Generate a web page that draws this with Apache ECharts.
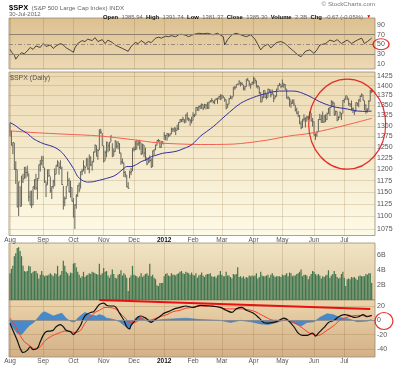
<!DOCTYPE html>
<html><head><meta charset="utf-8">
<script src="https://cdn.jsdelivr.net/npm/echarts@6/dist/echarts.min.js"></script>
<style>html,body{margin:0;padding:0;background:#fff}#c{width:400px;height:365px}</style>
</head><body><div id="c"></div><script>
// ---- axis / tick data ----
const monthStart = [0,23,44,65,86,107,127,147,169,189,211,232];
const monthName  = ['Aug','Sep','Oct','Nov','Dec','2012','Feb','Mar','Apr','May','Jun','Jul'];
const priceTicks = [1075,1100,1125,1150,1175,1200,1225,1250,1275,1300,1325,1350,1375,1400,1425];
const rsiTicks = [10,30,50,70,90];
const volTicks = [2,4,6];
const macdTicks = [20,0,-20,-40];

// ---- daily price data (Aug 1 2011 .. Jul 30 2012) ----
const dayClose = [
1286.94,1254.05,1260.34,1200.07,1199.38,1119.46,1172.53,1120.76,1172.64,1178.81,1204.49,1192.76,1193.89,1140.65,1123.53,1123.82,1162.35,1177.60,1159.27,1176.80,1210.08,1212.92,1218.89,
1204.42,1173.97,1165.24,1198.62,1185.90,1154.23,1162.27,1172.87,1188.68,1209.11,1216.01,1204.09,1202.09,1166.76,1129.56,1136.43,1162.95,1175.38,1151.06,1160.40,1131.42,
1099.23,1123.95,1144.03,1164.97,1155.46,1194.89,1195.54,1207.25,1203.66,1224.58,1200.86,1225.38,1209.88,1215.39,1238.25,1254.19,1229.05,1242.00,1284.59,1285.09,1253.30,
1218.28,1237.90,1261.15,1253.23,1261.12,1275.92,1229.10,1239.70,1263.85,1251.78,1257.81,1236.91,1216.13,1215.65,1192.98,1188.04,1161.79,1158.67,1192.55,1195.19,1246.96,
1244.58,1244.28,1257.08,1258.47,1261.01,1234.35,1255.19,1236.47,1225.73,1211.82,1215.75,1219.66,1205.35,1241.30,1243.72,1254.00,1265.33,1265.43,1249.64,1263.02,1257.60,
1277.06,1277.30,1281.06,1277.81,1280.70,1292.08,1292.48,1295.50,1289.09,1293.67,1308.04,1314.50,1315.38,1316.00,1314.65,1326.06,1318.43,1316.33,1313.01,1312.41,
1324.09,1325.54,1344.90,1344.33,1347.05,1349.96,1351.95,1342.64,1351.77,1350.50,1343.23,1358.04,1361.23,1362.21,1357.66,1363.46,1365.74,1367.59,1372.18,1365.68,
1374.09,1369.63,1364.33,1343.36,1352.63,1365.91,1370.87,1371.09,1395.95,1394.28,1402.60,1404.17,1409.75,1405.52,1402.89,1392.78,1397.11,1416.51,1412.52,1405.54,1403.28,1408.47,
1419.04,1413.38,1398.96,1398.08,1382.20,1358.59,1368.71,1387.57,1370.26,1369.57,1390.78,1385.14,1376.92,1378.53,1366.94,1371.97,1390.69,1399.98,1403.36,1397.91,
1405.82,1402.31,1391.57,1369.10,1369.58,1363.72,1354.58,1357.99,1353.39,1338.35,1330.66,1324.80,1304.86,1295.22,1315.99,1316.63,1318.86,1320.68,1317.82,1332.42,1313.32,1310.33,
1278.04,1278.18,1285.50,1315.13,1314.99,1325.66,1308.93,1324.18,1314.88,1329.10,1342.84,1344.78,1357.98,1355.69,1325.51,1335.02,1313.72,1319.99,1331.85,1329.04,1362.16,
1365.51,1374.02,1367.58,1354.68,1352.46,1341.47,1341.45,1334.76,1356.78,1353.64,1363.67,1372.78,1376.51,1362.66,1350.52,1338.31,1337.89,1360.02,1385.97,1385.30];
const dayHigh = [
1307,1288,1261,1260,1218,1199,1172,1163,1186,1190,1205,1204,1208,1191,1153,1154,1162,1178,1190,1181,1210,1221,1230,
1230,1203,1173,1199,1200,1184,1163,1177,1202,1209,1220,1215,1220,1206,1164,1141,1163,1195,1181,1175,1160,
1138,1125,1146,1165,1171,1195,1201,1220,1207,1224,1224,1233,1229,1219,1240,1256,1254,1246,1292,1293,1283,
1253,1242,1263,1260,1262,1277,1259,1247,1266,1263,1264,1259,1237,1224,1215,1196,1187,1172,1197,1203,1247,
1251,1264,1267,1266,1267,1260,1258,1255,1249,1226,1226,1231,1225,1242,1245,1256,1265,1269,1266,1263,1264,
1285,1278,1283,1282,1282,1296,1294,1296,1295,1303,1309,1316,1316,1322,1315,1328,1333,1320,1316,1322,
1333,1329,1345,1345,1349,1351,1355,1352,1354,1352,1358,1359,1363,1368,1362,1364,1368,1369,1373,1378,
1377,1374,1369,1364,1354,1369,1375,1372,1396,1399,1403,1405,1414,1409,1409,1402,1399,1417,1420,1413,1404,1410,
1423,1419,1413,1401,1397,1383,1374,1388,1387,1379,1392,1391,1390,1390,1378,1376,1392,1402,1407,1403,
1416,1405,1404,1391,1373,1369,1362,1365,1365,1351,1344,1336,1326,1312,1316,1328,1320,1324,1324,1335,1331,1319,
1310,1282,1287,1316,1329,1326,1335,1325,1328,1332,1343,1346,1363,1361,1357,1337,1335,1323,1335,1331,1363,
1367,1374,1373,1367,1355,1362,1345,1336,1357,1357,1365,1375,1380,1376,1362,1352,1343,1363,1389,1392];
const dayLow = [
1275,1254,1234,1199,1168,1119,1101,1120,1121,1170,1179,1180,1184,1131,1123,1117,1123,1156,1155,1135,1179,1195,1209,
1203,1170,1140,1166,1183,1149,1136,1158,1163,1189,1205,1188,1201,1166,1114,1121,1136,1164,1150,1139,1131,
1098,1075,1116,1140,1150,1158,1187,1196,1190,1206,1199,1191,1207,1197,1216,1238,1229,1221,1243,1281,1253,
1215,1219,1227,1238,1241,1262,1227,1230,1239,1247,1245,1235,1210,1212,1183,1182,1161,1158,1180,1187,1196,
1240,1243,1245,1253,1244,1232,1234,1227,1219,1209,1213,1216,1203,1205,1232,1243,1254,1262,1248,1249,1257,
1267,1266,1265,1273,1275,1280,1285,1285,1278,1289,1290,1307,1309,1309,1306,1307,1313,1311,1300,1306,
1313,1321,1326,1336,1336,1341,1341,1338,1343,1340,1341,1341,1357,1358,1355,1353,1363,1354,1365,1363,
1366,1368,1359,1340,1344,1353,1366,1365,1372,1389,1394,1402,1402,1398,1401,1388,1387,1397,1412,1398,1392,1402,
1403,1405,1395,1392,1378,1357,1359,1368,1369,1365,1370,1383,1370,1377,1358,1367,1372,1389,1399,1393,
1396,1394,1389,1367,1364,1347,1344,1354,1348,1335,1328,1321,1304,1292,1295,1310,1296,1310,1314,1318,1310,1298,
1277,1267,1274,1286,1314,1307,1307,1307,1309,1314,1329,1324,1345,1346,1325,1326,1311,1314,1320,1314,1330,
1356,1364,1363,1349,1346,1337,1331,1326,1335,1348,1345,1358,1371,1362,1338,1329,1332,1338,1360,1381];
// volume in billions
const dayVolume = [
3.6,4.2,4.6,5.9,6.3,7.0,7.1,6.6,5.9,4.6,3.9,3.8,3.9,4.6,4.5,3.6,3.8,3.9,3.9,3.6,2.9,3.4,3.9,
3.4,3.2,3.3,3.3,3.4,3.6,3.4,3.2,3.6,3.5,4.6,3.2,3.4,3.9,5.3,4.6,3.8,3.6,3.3,3.7,3.6,
4.9,5.0,4.4,3.8,3.4,3.0,3.2,3.8,3.1,3.3,3.4,3.6,3.5,3.8,3.7,3.6,3.5,3.4,4.9,3.4,3.6,
4.3,3.8,3.9,3.3,3.0,3.4,4.1,3.5,3.0,2.9,3.4,3.5,4.0,3.3,3.6,3.4,3.0,1.2,3.0,3.3,4.6,
3.4,3.3,3.2,3.0,3.2,3.6,3.1,3.3,3.5,3.6,3.3,4.9,3.2,3.4,3.0,2.8,2.0,1.9,2.3,2.3,2.3,
3.2,3.5,3.6,3.3,3.2,3.6,3.4,3.4,3.3,3.5,3.6,3.8,3.9,3.6,3.5,3.8,3.7,3.6,3.4,3.7,
3.4,3.3,3.6,3.0,3.3,3.4,3.7,3.3,3.1,3.4,3.5,3.5,3.6,3.2,3.1,3.2,3.0,3.3,3.4,3.9,
3.4,3.2,3.2,3.8,3.3,3.3,3.1,2.9,3.5,3.4,3.5,4.4,3.1,3.2,3.0,3.2,2.9,3.1,3.0,3.3,3.2,3.3,
3.2,3.3,3.6,2.9,3.1,3.8,3.3,3.2,3.2,3.3,3.4,3.0,3.4,3.6,3.3,3.1,3.2,3.2,3.2,3.1,
3.4,3.3,3.4,3.6,3.2,3.7,3.6,3.2,3.3,3.3,3.5,3.6,3.8,4.1,3.2,3.4,3.4,3.3,2.8,3.2,3.5,3.9,
3.8,3.5,3.3,3.5,3.3,2.9,3.2,3.1,3.3,3.4,4.0,3.0,3.3,3.5,3.9,3.5,3.1,2.9,3.0,3.5,3.8,
3.0,1.9,2.8,2.9,2.8,3.1,3.0,3.1,2.9,2.7,3.2,3.3,3.2,3.2,3.2,3.5,3.4,3.6,3.6,2.3];

// ---- moving averages (trading-day index, value) ----
const ma50Day   = [0,4,7,12,16,21,25,30,35,39,44,47,50,52,54,58,62,67,72,75,79,81,84,88,91,95,98,102,106,111,116,120,125,128,132,141,150,160,169,178,187,197,206,215,224,234,241,248,251];
const ma50Value = [1308,1300,1292,1282,1270,1261,1256,1251,1241,1226,1202,1184,1176,1173,1172,1173,1176,1180,1185,1191,1202,1206,1206,1211,1217,1222,1228,1232,1236,1238,1241,1246,1253,1261,1275,1298,1326,1355,1370,1380,1386,1386,1376,1359,1347,1341,1336,1335,1336];
const ma200Day   = [0,16,39,62,86,102,120,132,155,178,194,208,224,238,251];
const ma200Value = [1288,1284,1280,1276,1267,1260,1257,1256,1257,1266,1276,1282,1294,1306,1318];

// ---- RSI(14) ----
const rsiDay   = [0,1,3,4,5,6,8,10,12,14,16,18,21,23,25,28,30,32,35,37,39,42,44,45,47,50,52,54,57,59,61,64,66,68,71,73,75,78,80,82,84,87,89,91,94,96,98,101,103,105,108,110,112,115,117,119,122,124,126,128,131,134,137,141,144,148,149,151,154,157,160,164,167,170,174,176,179,181,185,188,191,193,197,200,202,205,208,211,213,215,219,222,225,227,230,234,237,241,244,246,248,251];
const rsiValue = [40,35,28,20,16,28,33,31,37,44,40,47,44,52,46,49,42,47,52,49,43,38,34,43,52,58,56,61,58,64,56,60,52,59,54,49,46,42,39,36,46,54,52,58,52,56,54,63,65,63,67,66,68,66,70,71,69,66,69,71,73,72,73,70,73,66,49,60,70,73,70,66,70,61,39,46,51,43,54,56,52,46,36,28,25,36,39,32,39,49,52,59,56,60,52,59,52,59,63,52,56,63];

// ---- MACD(12,26,9) ----
const macdDay   = [0,2,5,7,9,12,14,16,19,21,23,25,28,30,32,35,37,39,42,44,46,49,51,53,56,58,60,62,65,67,69,72,74,76,79,81,83,84,87,89,91,94,96,98,100,103,105,107,111,114,118,122,127,132,139,146,150,154,157,161,164,169,173,176,179,183,186,190,193,197,200,203,206,210,212,214,218,221,225,228,232,235,239,242,245,248,251];
const macdValue = [-4,-14,-28,-39,-45,-42,-37,-41,-39,-30,-21,-16,-15,-14,-9,-6,-9,-14,-16,-20,-16,-7,3,8,11,12,17,22,24,21,20,20,17,10,0,-9,-12,-7,0,5,6,3,0,-3,0,4,7,10,13,16,18,20,18,21,20,18,14,11,16,18,14,10,3,-3,-4,-3,-1,3,0,-9,-18,-21,-21,-18,-22,-18,-10,-3,0,5,8,7,4,5,8,5,7];
const signalDay   = [0,4,7,10,14,17,21,24,28,31,35,38,42,45,49,52,56,59,62,66,69,73,76,80,83,87,90,94,97,100,104,109,113,118,122,127,132,141,150,160,169,176,183,190,197,203,208,214,220,225,229,235,241,248,251];
const signalValue = [3,-9,-21,-30,-36,-40,-37,-29,-23,-20,-17,-15,-16,-17,-14,-4,5,11,14,18,18,16,11,3,-3,-3,2,4,0,2,5,8,12,14,17,18,20,20,16,16,13,6,0,0,-3,-11,-18,-21,-14,-7,0,5,7,6,6];
const histDay   = [0,2,5,8,10,13,15,17,20,22,24,27,30,33,36,38,40,43,45,47,50,52,54,57,60,62,65,67,70,74,76,78,81,83,84,87,89,91,95,98,101,106,113,122,132,146,153,160,167,174,179,185,191,197,202,206,211,215,220,224,229,235,241,248,251];
const histValue = [-3,-10,-18,-20,-15,-8,-5,-2,5,10,12,9,6,8,10,5,1,-2,-2,3,8,11,9,7,6,8,6,3,2,0,-2,-5,-10,-13,-7,3,5,4,-1,-3,0,1,2,3,1,0,-3,0,-2,-5,-6,-3,1,-4,-8,-3,-2,4,9,8,4,2,-2,-1,1];

// ---- hand-drawn annotations (data coordinates) ----
const trendDay = [62,250];
const trendValue = [28.4,15.8];
const priceCircle = {day:234, price:1304};
const rsiCircle = {day:257.5, value:50.5};
const macdCircle = {day:259.5, value:-1};

const FONT = '"Liberation Sans", Arial, Helvetica, sans-serif';
const lg = Math.log;
const GRIDLINE = 'rgba(120,85,30,0.18)';

function grd(top, height, c1, c2) {
  return {left:9, width:366, top, height, show:true, borderColor:'#9a8c74', borderWidth:0.8,
    backgroundColor:{type:'linear', x:0, y:0, x2:0, y2:1, colorStops:[{offset:0,color:c1},{offset:1,color:c2}]}};
}
function xAx(gi, showLabel) {
  return {type:'value', gridIndex:gi, min:-0.7, max:253.3,
    axisLine:{show:false}, axisTick:{show:false, customValues:monthStart},
    splitLine:{show:true, lineStyle:{color:GRIDLINE, width:1}},
    axisLabel:{show:showLabel, customValues:monthStart, margin:1, fontSize:6.5, color:'#555', fontFamily:FONT,
      formatter:v => { const s = monthName[monthStart.indexOf(v)] || ''; return s === '2012' ? '{b|2012}' : s; },
      rich:{b:{fontWeight:'bold', color:'#111', fontSize:6.5, fontFamily:FONT}}}};
}
function yAx(gi, min, max, ticks, fmt, split) {
  return {type:'value', gridIndex:gi, position:'right', min, max,
    axisLine:{show:false}, axisTick:{show:false, customValues:ticks},
    splitLine:{show:split, lineStyle:{color:GRIDLINE, width:1}},
    axisLabel:{customValues:ticks, formatter:fmt, fontSize:7, color:'#555', margin:2, fontFamily:FONT}};
}

const k = 0.0018425;
const pTop = lg(1425) + k*4;
const pBot = lg(1425) - k*159.5;

function renderBar(params, api) {
  const x = api.value(0);
  const a = api.coord([x, api.value(1)]);
  const b = api.coord([x, api.value(2)]);
  const c = api.coord([x, api.value(3)]);
  return {type:'group', children:[
    {type:'line', shape:{x1:a[0], y1:a[1], x2:b[0], y2:b[1]}, style:{stroke:'#64645a', lineWidth:1}},
    {type:'line', shape:{x1:c[0], y1:c[1], x2:c[0]+1.2, y2:c[1]}, style:{stroke:'#64645a', lineWidth:1}}
  ]};
}

const chart = echarts.init(document.getElementById('c'), null, {renderer:'canvas'});
chart.setOption({
  animation:false,
  textStyle:{fontFamily:FONT},
  grid:[
    grd(18, 51, '#dcc090', '#ecd9b4'),
    grd(72, 163.5, '#ecd9b2', '#fdfae6'),
    grd(243, 57, '#f1e4c4', '#dfc7a0'),
    grd(300, 57, '#ebd4ab', '#d3b086')
  ],
  xAxis:[xAx(0,false), xAx(1,true), xAx(2,false), xAx(3,true)],
  yAxis:[
    yAx(0, -0.2, 104.3, rsiTicks, v => String(v), false),
    yAx(1, pBot, pTop, priceTicks.map(lg), v => String(Math.round(Math.exp(v))), true),
    yAx(2, 0, 7.68, volTicks, v => v + 'B', false),
    yAx(3, -51.3, 28.4, macdTicks, v => String(v), true)
  ],
  graphic:[
    {type:'text', left:9, top:2, style:{text:'{a|\u0024SPX} {g|(S&P 500 Large Cap Index) INDX}',
      rich:{a:{fontWeight:'bold', fontSize:7.5, fill:'#000', fontFamily:FONT}, g:{fontSize:6.2, fill:'#666', fontFamily:FONT}}}},
    {type:'text', left:9, top:11, style:{text:'30-Jul-2012', fontSize:6, fill:'#666', fontFamily:FONT}},
    {type:'text', left:103, top:11, style:{
      text:'{b|Open} {v|1385.94} {b|High} {v|1391.74} {b|Low} {v|1381.37} {b|Close} {v|1385.30} {b|Volume} {v|2.3B} {b|Chg} {v|-0.67 (-0.05%)} {r|▼}',
      rich:{b:{fontWeight:'bold', fontSize:5.9, fill:'#111', fontFamily:FONT}, v:{fontSize:5.9, fill:'#666', fontFamily:FONT}, r:{fontSize:5, fill:'#d00'}}}},
    {type:'text', right:25, top:1, style:{text:'© StockCharts.com', fontSize:6.2, fill:'#777', fontFamily:FONT}},
    {type:'text', left:10, top:75, style:{text:'\u0024SPX (Daily)', fontSize:7, fill:'#555', fontFamily:FONT}}
  ],
  series:[
    {type:'line', xAxisIndex:0, yAxisIndex:0, data:rsiDay.map((d,i)=>[d, rsiValue[i]]), symbol:'none',
      lineStyle:{color:'#222', width:0.8},
      markLine:{silent:true, symbol:'none', label:{show:false}, animation:false, data:[
        {yAxis:70, lineStyle:{color:'#8f8270', type:'solid', width:1}},
        {yAxis:30, lineStyle:{color:'#8f8270', type:'solid', width:1}},
        {yAxis:50, lineStyle:{color:'#9a8c78', type:[4,2,1,2], width:1}}]}},
    {type:'custom', xAxisIndex:1, yAxisIndex:1, renderItem:renderBar,
      data:dayClose.map((c,i)=>[i, lg(dayLow[i]), lg(dayHigh[i]), lg(c)]), encode:{x:0, y:[1,2,3]}},
    {type:'line', xAxisIndex:1, yAxisIndex:1, data:ma200Day.map((d,i)=>[d, lg(ma200Value[i])]), symbol:'none', smooth:0.3,
      lineStyle:{color:'#f5604f', width:1}},
    {type:'line', xAxisIndex:1, yAxisIndex:1, data:ma50Day.map((d,i)=>[d, lg(ma50Value[i])]), symbol:'none', smooth:0.3,
      lineStyle:{color:'#3030a0', width:1}},
    {type:'scatter', xAxisIndex:1, yAxisIndex:1, data:[[priceCircle.day, lg(priceCircle.price)]], symbolSize:[77,90], clip:false, silent:true,
      itemStyle:{color:'rgba(0,0,0,0)', borderColor:'#e00000', borderWidth:1.3}, z:10},
    {type:'bar', xAxisIndex:2, yAxisIndex:2, data:dayVolume.map((v,i)=>[i, v]), barWidth:1.2,
      itemStyle:{color:'#3e7650'}},
    {type:'line', xAxisIndex:3, yAxisIndex:3, data:histDay.map((d,i)=>[d, histValue[i]]), symbol:'none',
      lineStyle:{color:'#3a7fc2', width:0.6}, areaStyle:{color:'#3f86cc', opacity:0.95, origin:0},
      markLine:{silent:true, symbol:'none', label:{show:false}, animation:false, data:[{yAxis:0, lineStyle:{color:'#8c8c8c', type:'solid', width:0.8}}]}},
    {type:'line', xAxisIndex:3, yAxisIndex:3, data:signalDay.map((d,i)=>[d, signalValue[i]]), symbol:'none', smooth:0.3,
      lineStyle:{color:'#ff3a2a', width:1}},
    {type:'line', xAxisIndex:3, yAxisIndex:3, data:macdDay.map((d,i)=>[d, macdValue[i]]), symbol:'none', smooth:0.3,
      lineStyle:{color:'#111', width:1.2}},
    {type:'line', xAxisIndex:3, yAxisIndex:3, data:trendDay.map((d,i)=>[d, trendValue[i]]), symbol:'none',
      lineStyle:{color:'#e81010', width:2}, z:5},
    {type:'scatter', xAxisIndex:0, yAxisIndex:0, data:[[rsiCircle.day, rsiCircle.value]], symbolSize:[16,11], clip:false, silent:true,
      itemStyle:{color:'rgba(0,0,0,0)', borderColor:'#e00000', borderWidth:1.2}, z:10},
    {type:'scatter', xAxisIndex:3, yAxisIndex:3, data:[[macdCircle.day, macdCircle.value]], symbolSize:[18,17], clip:false, silent:true,
      itemStyle:{color:'rgba(0,0,0,0)', borderColor:'#e00000', borderWidth:1.2}, z:10}
  ]
});
</script></body></html>
